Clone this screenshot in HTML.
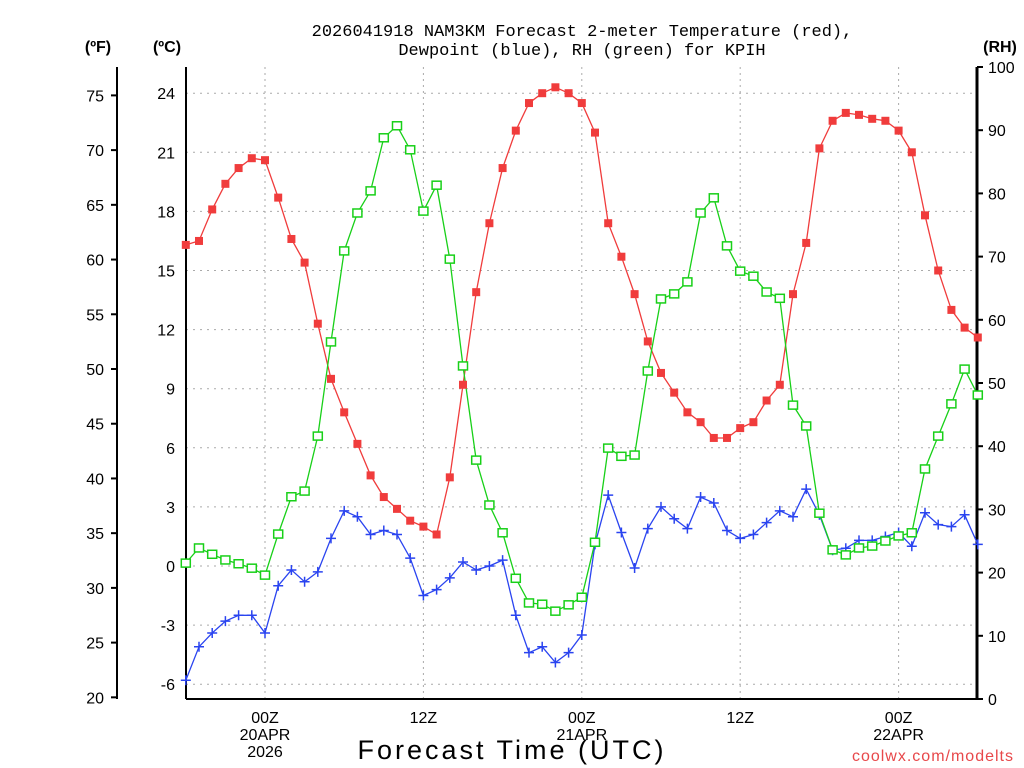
<!DOCTYPE html>
<html><head><meta charset="utf-8"><title>NAM3KM KPIH</title>
<style>
html,body{margin:0;padding:0;background:#fff;}
svg{display:block;font-family:"Liberation Sans",sans-serif;}
</style></head>
<body>
<svg id="chart" width="1024" height="768" viewBox="0 0 1024 768" xmlns="http://www.w3.org/2000/svg">
<text x="582" y="36" font-size="17" font-family="Liberation Mono, monospace" text-anchor="middle">2026041918 NAM3KM Forecast 2-meter Temperature (red),</text>
<text x="582" y="55" font-size="17" font-family="Liberation Mono, monospace" text-anchor="middle">Dewpoint (blue), RH (green) for KPIH</text>
<text x="98" y="52" font-size="16" font-weight="bold" text-anchor="middle">(ºF)</text>
<text x="167" y="52" font-size="16" font-weight="bold" text-anchor="middle">(ºC)</text>
<text x="1000" y="52" font-size="16" font-weight="bold" text-anchor="middle">(RH)</text>
<text x="512" y="759" font-size="27" text-anchor="middle" letter-spacing="3">Forecast Time (UTC)</text>
<text x="1014" y="761" font-size="16" fill="#e8484a" text-anchor="end" letter-spacing="1">coolwx.com/modelts</text>
<g id="grid"></g><g id="axes"></g><g id="series"></g>
</svg>
<script>
// hours relative to 00Z 20APR
var hours = [];
for (var h = -6; h <= 54; h++) hours.push(h);
var tempC = [16.3,16.5,18.1,19.4,20.2,20.7,20.6,18.7,16.6,15.4,12.3,9.5,7.8,6.2,4.6,3.5,2.9,2.3,2.0,1.6,4.5,9.2,13.9,17.4,20.2,22.1,23.5,24.0,24.3,24.0,23.5,22.0,17.4,15.7,13.8,11.4,9.8,8.8,7.8,7.3,6.5,6.5,7.0,7.3,8.4,9.2,13.8,16.4,21.2,22.6,23.0,22.9,22.7,22.6,22.1,21.0,17.8,15.0,13.0,12.1,11.6];
var dewC = [-5.8,-4.1,-3.4,-2.8,-2.5,-2.5,-3.4,-1.0,-0.2,-0.8,-0.3,1.4,2.8,2.5,1.6,1.8,1.6,0.4,-1.5,-1.2,-0.6,0.2,-0.2,0,0.3,-2.5,-4.4,-4.1,-4.9,-4.4,-3.5,1.1,3.6,1.7,-0.1,1.9,3.0,2.4,1.9,3.5,3.2,1.8,1.4,1.6,2.2,2.8,2.5,3.9,2.6,0.8,0.9,1.3,1.3,1.5,1.7,1.0,2.7,2.1,2.0,2.6,1.1];
var rh = [21.5,23.9,22.9,22.0,21.4,20.7,19.6,26.1,32.0,32.9,41.6,56.5,70.9,76.9,80.4,88.8,90.7,86.9,77.2,81.3,69.6,52.7,37.8,30.7,26.3,19.1,15.2,15.0,13.9,14.9,16.1,24.8,39.7,38.4,38.6,51.9,63.3,64.1,66.0,76.9,79.3,71.7,67.7,66.9,64.4,63.4,46.5,43.2,29.4,23.6,22.8,23.9,24.2,25.0,25.8,26.3,36.4,41.6,46.7,52.2,48.1];
var cTicks = [-6,-3,0,3,6,9,12,15,18,21,24];
var fTicks = [20,25,30,35,40,45,50,55,60,65,70,75];
var rhTicks = [0,10,20,30,40,50,60,70,80,90,100];
var xTickHours = [0,12,24,36,48];
var xTickLabels = [["00Z","20APR","2026"],["12Z"],["00Z","21APR"],["12Z"],["00Z","22APR"]];

var NS = "http://www.w3.org/2000/svg";
var L = 186, R = 977, T = 67, B = 699;
function xS(h){ return 265 + (h) * 13.2; }
function yC(c){ return 566 - c * 19.7; }
function yF(f){ return yC((f - 32) * 5 / 9); }
function yRH(r){ return B - r * (B - T) / 100; }
function mk(tag, attrs, parent){
  var e = document.createElementNS(NS, tag);
  for (var k in attrs) e.setAttribute(k, attrs[k]);
  parent.appendChild(e); return e;
}
var grid = document.getElementById('grid'), axes = document.getElementById('axes'), ser = document.getElementById('series');

cTicks.forEach(function(c){
  var y = yC(c);
  var g = mk('line', {x1:L, x2:R, y1:y, y2:y, stroke:'#aaa', 'stroke-width':1, 'stroke-dasharray':'2,5'}, grid);
  
  
  var t = mk('text', {x:175, y:y+6, 'font-size':16, 'text-anchor':'end'}, axes);
  t.textContent = c;
  
  
});
xTickHours.forEach(function(h, i){
  var x = xS(h);
  var g = mk('line', {x1:x, x2:x, y1:T, y2:B, stroke:'#aaa', 'stroke-width':1, 'stroke-dasharray':'2,4'}, grid);
  
  
  xTickLabels[i].forEach(function(s, j){
    var t = mk('text', {x:x, y:723 + j*17, 'font-size':16, 'text-anchor':'middle'}, axes);
    t.textContent = s;
    
    
  });
});
fTicks.forEach(function(f){
  var y = yF(f);
  var tk = mk('line', {x1:111, x2:117, y1:y, y2:y, stroke:'#000', 'stroke-width':2}, axes);
  
  
  var t = mk('text', {x:104, y:y+6, 'font-size':16, 'text-anchor':'end'}, axes);
  t.textContent = f;
  
  
});
rhTicks.forEach(function(r){
  var y = yRH(r);
  var tk = mk('line', {x1:977, x2:983, y1:y, y2:y, stroke:'#000', 'stroke-width':2}, axes);
  
  
  var t = mk('text', {x:988, y:y+6, 'font-size':16, 'text-anchor':'start'}, axes);
  t.textContent = r;
  
  
});
var sp = mk('line', {x1:117, x2:117, y1:T, y2:B, stroke:'#000', 'stroke-width':2}, axes);


var sp2 = mk('line', {x1:L, x2:L, y1:T, y2:B, stroke:'#000', 'stroke-width':2}, axes);


var sp3 = mk('line', {x1:R, x2:R, y1:T, y2:B, stroke:'#000', 'stroke-width':3}, axes);


var sp4 = mk('line', {x1:L, x2:R, y1:B, y2:B, stroke:'#000', 'stroke-width':2}, axes);



function drawLine(vals, yf, color, name){
  var pts = vals.map(function(v, i){ return xS(hours[i]).toFixed(1) + ',' + yf(v).toFixed(1); }).join(' ');
  var p = mk('polyline', {points:pts, fill:'none', stroke:color, 'stroke-width':1.3}, ser);
  
  
}
drawLine(tempC, yC, '#f03c3c', 'temperature');
drawLine(dewC, yC, '#2a44f0', 'dewpoint');
drawLine(rh, yRH, '#18d018', 'rh');
tempC.forEach(function(v, i){
  var m = mk('rect', {x:xS(hours[i])-4, y:yC(v)-4, width:8, height:8, fill:'#f03c3c'}, ser);
  
  
});
dewC.forEach(function(v, i){
  var x = xS(hours[i]), y = yC(v);
  var m = mk('path', {d:'M'+(x-5)+' '+y+'H'+(x+5)+'M'+x+' '+(y-5)+'V'+(y+5), stroke:'#2a44f0', 'stroke-width':1.5}, ser);
  
  
});
rh.forEach(function(v, i){
  var m = mk('rect', {x:xS(hours[i])-4.5, y:yRH(v)-4, width:9, height:8, fill:'#fff', stroke:'#18d018', 'stroke-width':1.5}, ser);
  
  
});
</script>
</body></html>
